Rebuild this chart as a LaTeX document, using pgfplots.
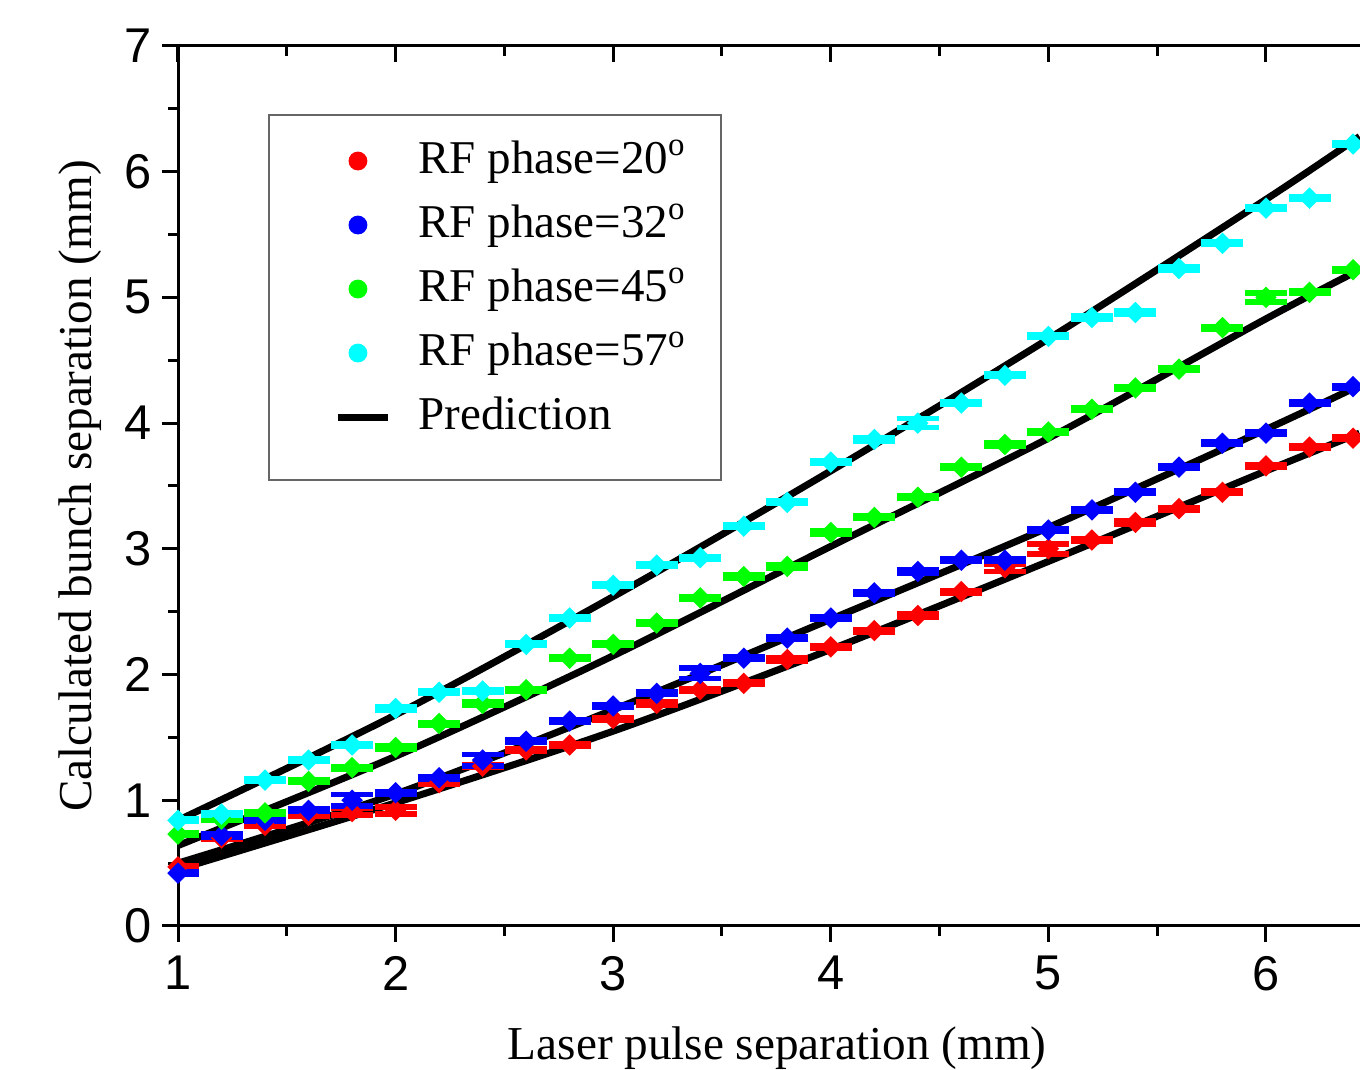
\documentclass[border=0pt]{standalone}
\usepackage{fontspec}
\setmainfont{Liberation Serif}
\setsansfont{Liberation Sans}
\usepackage{pgfplots}
\pgfplotsset{compat=1.18}
\usepackage{pgfplotstable}

\definecolor{cR}{RGB}{255,0,0}
\definecolor{cB}{RGB}{0,0,255}
\definecolor{cG}{RGB}{0,255,0}
\definecolor{cC}{RGB}{0,255,255}

\pgfdeclareplotmark{rdiam}{%
  \pgfpathmoveto{\pgfqpoint{0pt}{\pgfplotmarksize}}%
  \pgfpathlineto{\pgfqpoint{\pgfplotmarksize}{0pt}}%
  \pgfpathlineto{\pgfqpoint{0pt}{-\pgfplotmarksize}}%
  \pgfpathlineto{\pgfqpoint{-\pgfplotmarksize}{0pt}}%
  \pgfpathclose\pgfusepathqfillstroke}

\pgfplotstableread{
x y e
1.0 0.47 0.01
1.2 0.70 0.01
1.4 0.80 0.01
1.6 0.88 0.01
1.8 0.91 0.028
2.0 0.92 0.028
2.2 1.14 0.01
2.4 1.27 0.01
2.6 1.40 0.01
2.8 1.44 0.01
3.0 1.65 0.01
3.2 1.77 0.01
3.4 1.88 0.01
3.6 1.93 0.01
3.8 2.12 0.01
4.0 2.22 0.01
4.2 2.35 0.01
4.4 2.47 0.01
4.6 2.66 0.01
4.8 2.85 0.03
5.0 3.00 0.04
5.2 3.07 0.01
5.4 3.21 0.01
5.6 3.32 0.01
5.8 3.45 0.01
6.0 3.66 0.01
6.2 3.81 0.01
6.4 3.88 0.01
}\redtab

\pgfplotstableread{
x y e
1.0 0.42 0.01
1.2 0.72 0.01
1.4 0.84 0.01
1.6 0.92 0.01
1.8 1.00 0.045
2.0 1.06 0.01
2.2 1.18 0.01
2.4 1.32 0.045
2.6 1.47 0.01
2.8 1.63 0.01
3.0 1.75 0.01
3.2 1.85 0.01
3.4 2.01 0.04
3.6 2.13 0.01
3.8 2.29 0.01
4.0 2.45 0.01
4.2 2.65 0.01
4.4 2.82 0.01
4.6 2.91 0.01
4.8 2.91 0.01
5.0 3.15 0.01
5.2 3.31 0.01
5.4 3.45 0.01
5.6 3.65 0.01
5.8 3.84 0.01
6.0 3.92 0.01
6.2 4.16 0.01
6.4 4.29 0.01
}\bluetab

\pgfplotstableread{
x y e
1.0 0.73 0.01
1.2 0.85 0.01
1.4 0.90 0.01
1.6 1.15 0.01
1.8 1.26 0.01
2.0 1.42 0.01
2.2 1.61 0.01
2.4 1.77 0.01
2.6 1.88 0.01
2.8 2.13 0.01
3.0 2.24 0.01
3.2 2.41 0.01
3.4 2.61 0.01
3.6 2.78 0.01
3.8 2.86 0.01
4.0 3.13 0.01
4.2 3.25 0.01
4.4 3.41 0.01
4.6 3.65 0.01
4.8 3.83 0.01
5.0 3.93 0.01
5.2 4.11 0.01
5.4 4.28 0.01
5.6 4.43 0.01
5.8 4.76 0.01
6.0 5.00 0.036
6.2 5.04 0.01
6.4 5.22 0.01
}\greentab

\pgfplotstableread{
x y e
1.0 0.84 0.01
1.2 0.89 0.01
1.4 1.16 0.01
1.6 1.32 0.01
1.8 1.44 0.01
2.0 1.73 0.01
2.2 1.86 0.01
2.4 1.87 0.01
2.6 2.24 0.01
2.8 2.45 0.01
3.0 2.71 0.01
3.2 2.87 0.01
3.4 2.93 0.01
3.6 3.18 0.01
3.8 3.37 0.01
4.0 3.69 0.01
4.2 3.87 0.01
4.4 4.00 0.036
4.6 4.16 0.01
4.8 4.38 0.01
5.0 4.69 0.01
5.2 4.84 0.01
5.4 4.88 0.01
5.6 5.23 0.01
5.8 5.43 0.01
6.0 5.71 0.01
6.2 5.79 0.01
6.4 6.22 0.01
}\cyantab

\pgfplotsset{
  datastyle/.style={forget plot, only marks, mark=rdiam, mark size=2.4pt, color=#1,
    error bars/.cd, y dir=both, y explicit, error mark=|,
    error bar style={line width=1.4pt, color=#1},
    error mark options={line width=1.4pt, mark size=5.25pt, color=#1}},
}

\begin{document}
\begin{tikzpicture}
\begin{axis}[
  at={(0,0)}, anchor=south west,
  scale only axis, width=295.5pt, height=220pt,
  xmin=1, xmax=6.432, ymin=0, ymax=7,
  axis x line*=bottom, axis y line*=left,
  tick align=outside,
  xtick={1,2,3,4,5,6}, ytick={0,1,2,3,4,5,6,7},
  minor x tick num=1, minor y tick num=1,
  major tick length=4pt, minor tick length=2.4pt,
  every tick/.style={black, line width=0.75pt},
  axis line style={line width=0.75pt},
  tick label style={font=\sffamily\fontsize{12.2}{14}\selectfont},
  yticklabel style={xshift=1pt},
  /pgf/number format/assume math mode=true,
  xlabel={Laser pulse separation (mm)},
  ylabel={Calculated bunch separation (mm)},
  label style={font=\fontsize{11.8}{14}\selectfont},
  xlabel style={at={(axis description cs:0.507,0)}, anchor=north, yshift=-21.6pt},
  ylabel style={at={(axis description cs:0,0.5)}, anchor=south, yshift=15.5pt},
  legend style={at={(axis description cs:0.0761,0.9227)}, anchor=north west,
    draw=black!60, line width=0.5pt, inner xsep=8.5pt, inner ysep=5.5pt,
    column sep=6.75pt, row sep=4pt,
    font=\fontsize{11.75}{14}\selectfont,
    nodes={inner sep=0pt, text height=9pt, text depth=3pt}},
  legend cell align=left,
]
\addlegendimage{legend image code/.code={\path (-8.5pt,0pt) (12.5pt,0pt); \fill[cR] (5pt,0pt) circle (2.1pt);}}
\addlegendimage{legend image code/.code={\path (-8.5pt,0pt) (12.5pt,0pt); \fill[cB] (5pt,0pt) circle (2.1pt);}}
\addlegendimage{legend image code/.code={\path (-8.5pt,0pt) (12.5pt,0pt); \fill[cG] (5pt,0pt) circle (2.1pt);}}
\addlegendimage{legend image code/.code={\path (-8.5pt,0pt) (12.5pt,0pt); \fill[cC] (5pt,0pt) circle (2.1pt);}}
\addlegendimage{legend image code/.code={\path (-8.5pt,0pt) (0pt,-10pt); \draw[black, line width=1.75pt] (0pt,0pt) -- (12.5pt,0pt);}}
\legend{RF phase=20\textsuperscript{o}, RF phase=32\textsuperscript{o}, RF phase=45\textsuperscript{o}, RF phase=57\textsuperscript{o}, Prediction}

% predictions
\addplot[forget plot, black, line width=1.75pt, smooth] coordinates {(1,0.45) (2,0.98) (3,1.55) (4,2.2) (5,2.9) (6,3.62) (6.43,3.92)};
\addplot[forget plot, black, line width=1.75pt, smooth] coordinates {(1,0.50) (2,1.05) (3,1.72) (4,2.44) (5,3.17) (6,3.95) (6.43,4.30)};
\addplot[forget plot, black, line width=1.75pt, smooth] coordinates {(1,0.64) (2,1.35) (3,2.15) (4,3.02) (5,3.88) (6,4.83) (6.43,5.22)};
\addplot[forget plot, black, line width=1.75pt, smooth] coordinates {(1,0.84) (2,1.68) (3,2.62) (4,3.62) (5,4.67) (6,5.78) (6.43,6.28)};

% data
\addplot[datastyle=cR] table[x=x, y=y, y error=e] {\redtab};
\addplot[datastyle=cB] table[x=x, y=y, y error=e] {\bluetab};
\addplot[datastyle=cG] table[x=x, y=y, y error=e] {\greentab};
\addplot[datastyle=cC] table[x=x, y=y, y error=e] {\cyantab};
\end{axis}
\begin{axis}[
  at={(0,0)}, anchor=south west,
  scale only axis, width=295.5pt, height=220pt,
  xmin=1, xmax=6.432, ymin=0, ymax=7,
  axis x line*=top, axis y line=none,
  tick align=inside,
  xtick={1,2,3,4,5,6}, xticklabels={},
  minor x tick num=1,
  major tick length=4pt, minor tick length=2.4pt,
  every tick/.style={black, line width=0.75pt},
  axis line style={line width=0.75pt},
]
\end{axis}
\pgfresetboundingbox
\path[use as bounding box] (-44.5pt,-36pt) rectangle (295.5pt,231.5pt);
\end{tikzpicture}
\end{document}
